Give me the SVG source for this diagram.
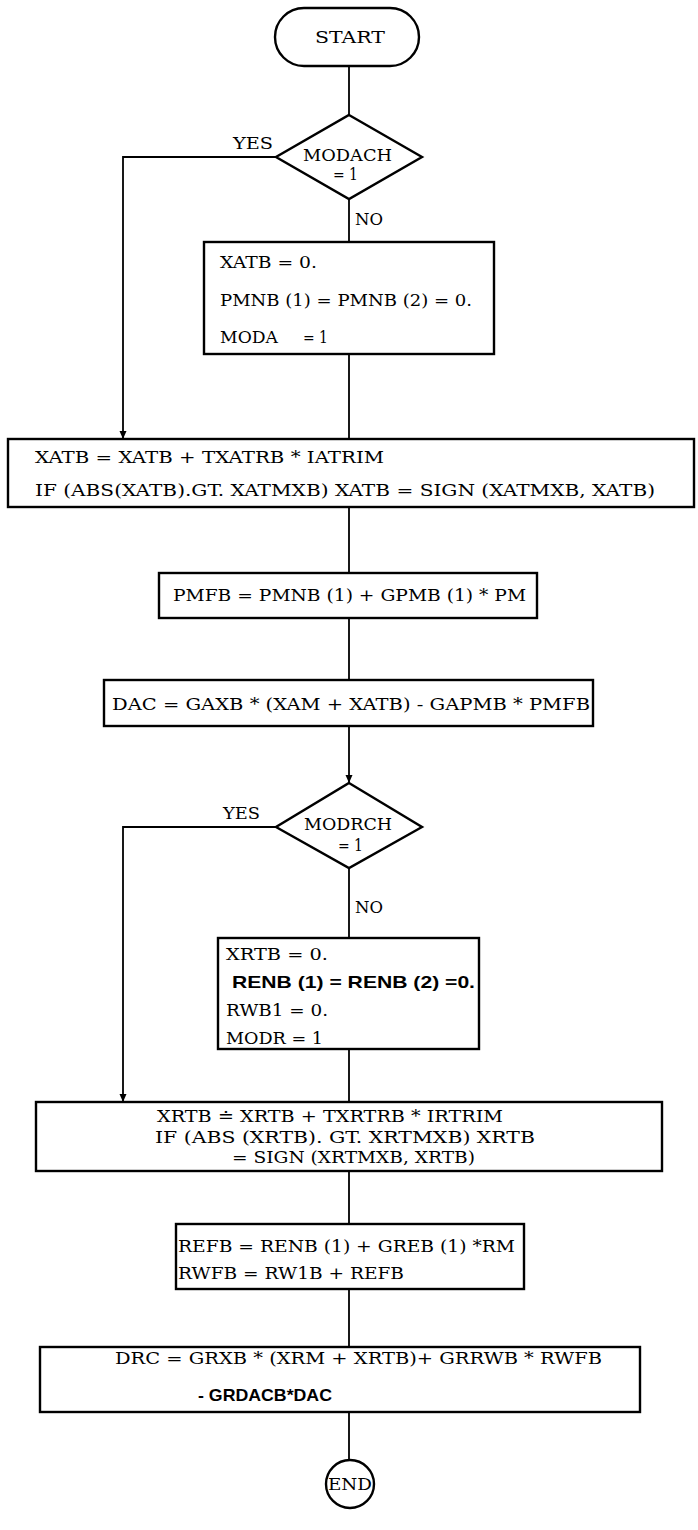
<svg xmlns="http://www.w3.org/2000/svg" width="698" height="1530" viewBox="0 0 698 1530">
<style>
.box{fill:#fff;stroke:#000;stroke-width:2.4}
.ln{fill:none;stroke:#000;stroke-width:1.8}
.t{font-family:"DejaVu Serif","Liberation Serif",serif;font-size:17px;fill:#000}
.s{font-family:"Liberation Sans",Arial,sans-serif;font-size:17px;font-weight:bold;fill:#000}
</style>
<defs>
<marker id="arr" viewBox="0 0 8 16" refX="8" refY="8" markerWidth="8" markerHeight="16" markerUnits="userSpaceOnUse" orient="auto">
<path d="M0,4.5 L8,8 L0,11.5 z" fill="#000"/>
</marker>
</defs>
<rect width="698" height="1530" fill="#fff"/>
<g id="connectors">
<line class="ln" x1="349" y1="66" x2="349" y2="115"/>
<line class="ln" x1="349" y1="199" x2="349" y2="242"/>
<polyline class="ln" points="276,157 123,157 123,439" marker-end="url(#arr)"/>
<line class="ln" x1="349" y1="354" x2="349" y2="439"/>
<line class="ln" x1="349" y1="507" x2="349" y2="573"/>
<line class="ln" x1="349" y1="618" x2="349" y2="680"/>
<line class="ln" x1="349" y1="726" x2="349" y2="783" marker-end="url(#arr)"/>
<line class="ln" x1="349" y1="868" x2="349" y2="938"/>
<polyline class="ln" points="276,827 123,827 123,1102" marker-end="url(#arr)"/>
<line class="ln" x1="349" y1="1049" x2="349" y2="1102"/>
<line class="ln" x1="349" y1="1171" x2="349" y2="1224"/>
<line class="ln" x1="349" y1="1289" x2="349" y2="1347"/>
<line class="ln" x1="349" y1="1412" x2="349" y2="1460"/>
<text class="t" x="233" y="149" textLength="40" lengthAdjust="spacingAndGlyphs">YES</text>
<text class="t" x="355" y="225" textLength="28" lengthAdjust="spacingAndGlyphs">NO</text>
<text class="t" x="223" y="819" textLength="37" lengthAdjust="spacingAndGlyphs">YES</text>
<text class="t" x="355" y="913" textLength="28" lengthAdjust="spacingAndGlyphs">NO</text>
</g>
<g id="start">
<rect class="box" x="275" y="8" width="144" height="58" rx="29" ry="29"/>
<text class="t" x="315" y="43" textLength="70" lengthAdjust="spacingAndGlyphs">START</text>
</g>
<g id="modach">
<polygon class="box" points="349,115 422,157 349,199 276,157"/>
<text class="t" x="303" y="161" textLength="89" lengthAdjust="spacingAndGlyphs">MODACH</text>
<text class="t" x="333" y="180" textLength="25" lengthAdjust="spacingAndGlyphs">= 1</text>
</g>
<g id="init-a">
<rect class="box" x="204" y="242" width="290" height="112"/>
<text class="t" x="220" y="268" textLength="97" lengthAdjust="spacingAndGlyphs">XATB = 0.</text>
<text class="t" x="220" y="306" textLength="252" lengthAdjust="spacingAndGlyphs">PMNB (1) = PMNB (2) = 0.</text>
<text class="t" x="220" y="343" textLength="58" lengthAdjust="spacingAndGlyphs">MODA</text>
<text class="t" x="303" y="343" textLength="25" lengthAdjust="spacingAndGlyphs">= 1</text>
</g>
<g id="xatb">
<rect class="box" x="8" y="439" width="686" height="68"/>
<text class="t" x="35" y="463" textLength="349" lengthAdjust="spacingAndGlyphs">XATB = XATB + TXATRB * IATRIM</text>
<text class="t" x="35" y="496" textLength="620" lengthAdjust="spacingAndGlyphs">IF (ABS(XATB).GT. XATMXB) XATB = SIGN (XATMXB, XATB)</text>
</g>
<g id="pmfb">
<rect class="box" x="159" y="573" width="378" height="45"/>
<text class="t" x="173" y="601" textLength="353" lengthAdjust="spacingAndGlyphs">PMFB = PMNB (1) + GPMB (1) * PM</text>
</g>
<g id="dac">
<rect class="box" x="104" y="680" width="489" height="46"/>
<text class="t" x="112" y="710" textLength="478" lengthAdjust="spacingAndGlyphs">DAC = GAXB * (XAM + XATB) - GAPMB * PMFB</text>
</g>
<g id="modrch">
<polygon class="box" points="349,783 422,827 349,868 276,827"/>
<text class="t" x="304" y="830" textLength="88" lengthAdjust="spacingAndGlyphs">MODRCH</text>
<text class="t" x="338" y="851" textLength="25" lengthAdjust="spacingAndGlyphs">= 1</text>
</g>
<g id="init-r">
<rect class="box" x="218" y="938" width="261" height="111"/>
<text class="t" x="226" y="960" textLength="102" lengthAdjust="spacingAndGlyphs">XRTB =  0.</text>
<text class="s" x="232" y="988" textLength="243" lengthAdjust="spacingAndGlyphs">RENB  (1) =  RENB  (2) =0.</text>
<text class="t" x="226" y="1016" textLength="102" lengthAdjust="spacingAndGlyphs">RWB1 =  0.</text>
<text class="t" x="226" y="1044" textLength="97" lengthAdjust="spacingAndGlyphs">MODR =  1</text>
</g>
<g id="xrtb">
<rect class="box" x="36" y="1102" width="626" height="69"/>
<text class="t" x="157" y="1122" textLength="346" lengthAdjust="spacingAndGlyphs">XRTB ≐ XRTB + TXRTRB * IRTRIM</text>
<text class="t" x="155" y="1143" textLength="380" lengthAdjust="spacingAndGlyphs">IF (ABS (XRTB). GT. XRTMXB) XRTB</text>
<text class="t" x="232" y="1163" textLength="243" lengthAdjust="spacingAndGlyphs">= SIGN (XRTMXB, XRTB)</text>
</g>
<g id="refb">
<rect class="box" x="176" y="1224" width="348" height="65"/>
<text class="t" x="178" y="1252" textLength="337" lengthAdjust="spacingAndGlyphs">REFB = RENB (1) + GREB (1) *RM</text>
<text class="t" x="178" y="1279" textLength="226" lengthAdjust="spacingAndGlyphs">RWFB =  RW1B + REFB</text>
</g>
<g id="drc">
<rect class="box" x="40" y="1347" width="600" height="65"/>
<text class="t" x="115" y="1364" textLength="487" lengthAdjust="spacingAndGlyphs">DRC  = GRXB * (XRM + XRTB)+ GRRWB * RWFB</text>
<text class="s" x="198" y="1401" textLength="134" lengthAdjust="spacingAndGlyphs">- GRDACB*DAC</text>
</g>
<g id="end">
<circle class="box" cx="350" cy="1484" r="24"/>
<text class="t" x="328" y="1490" textLength="44" lengthAdjust="spacingAndGlyphs">END</text>
</g>
</svg>
